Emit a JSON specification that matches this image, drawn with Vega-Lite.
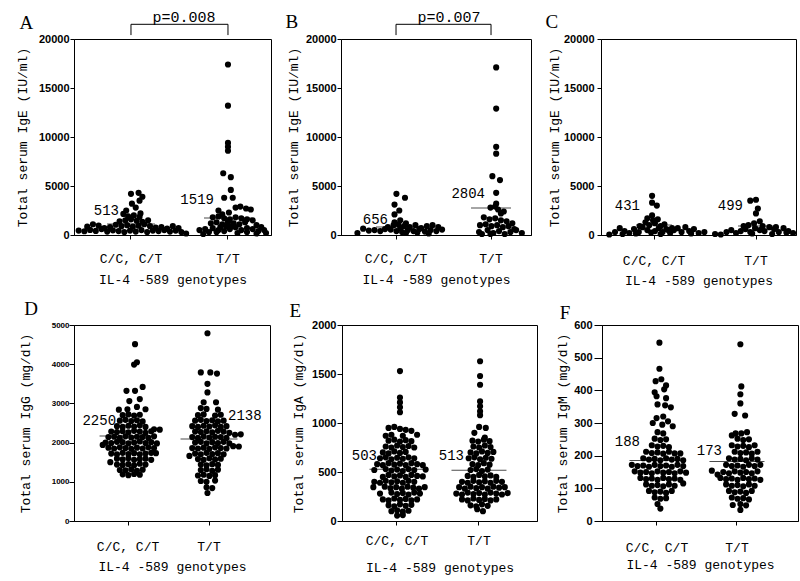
{
"$schema": "https://vega.github.io/schema/vega-lite/v6.json",
"background": "white",
"padding": {"left": 15, "top": 9, "right": 0, "bottom": 0},
"datasets": {
"A": [
{"g":"C/C, C/T","v":450,"j":-55},{"g":"C/C, C/T","v":380,"j":-49},{"g":"C/C, C/T","v":520,"j":-43},{"g":"C/C, C/T","v":420,"j":-37},{"g":"C/C, C/T","v":600,"j":-31},{"g":"C/C, C/T","v":350,"j":-25},{"g":"C/C, C/T","v":480,"j":-19},{"g":"C/C, C/T","v":400,"j":-13},{"g":"C/C, C/T","v":850,"j":-46},{"g":"C/C, C/T","v":950,"j":-34},{"g":"C/C, C/T","v":800,"j":-22},{"g":"C/C, C/T","v":1100,"j":-40},{"g":"C/C, C/T","v":700,"j":-28},{"g":"C/C, C/T","v":300,"j":-7},{"g":"C/C, C/T","v":450,"j":-1},{"g":"C/C, C/T","v":350,"j":5},{"g":"C/C, C/T","v":500,"j":11},{"g":"C/C, C/T","v":300,"j":17},{"g":"C/C, C/T","v":450,"j":23},{"g":"C/C, C/T","v":900,"j":-10},{"g":"C/C, C/T","v":1000,"j":-4},{"g":"C/C, C/T","v":850,"j":2},{"g":"C/C, C/T","v":950,"j":8},{"g":"C/C, C/T","v":1100,"j":14},{"g":"C/C, C/T","v":900,"j":20},{"g":"C/C, C/T","v":1400,"j":-12},{"g":"C/C, C/T","v":1500,"j":-6},{"g":"C/C, C/T","v":1600,"j":0},{"g":"C/C, C/T","v":1450,"j":6},{"g":"C/C, C/T","v":1350,"j":12},{"g":"C/C, C/T","v":1500,"j":18},{"g":"C/C, C/T","v":1900,"j":-3},{"g":"C/C, C/T","v":2000,"j":3},{"g":"C/C, C/T","v":1850,"j":9},{"g":"C/C, C/T","v":2150,"j":-8},{"g":"C/C, C/T","v":2200,"j":10},{"g":"C/C, C/T","v":2500,"j":-5},{"g":"C/C, C/T","v":2800,"j":5},{"g":"C/C, C/T","v":3200,"j":1},{"g":"C/C, C/T","v":3500,"j":9},{"g":"C/C, C/T","v":3900,"j":12},{"g":"C/C, C/T","v":4200,"j":0},{"g":"C/C, C/T","v":4300,"j":8},{"g":"C/C, C/T","v":400,"j":29},{"g":"C/C, C/T","v":500,"j":35},{"g":"C/C, C/T","v":350,"j":41},{"g":"C/C, C/T","v":450,"j":47},{"g":"C/C, C/T","v":300,"j":53},{"g":"C/C, C/T","v":150,"j":58},{"g":"C/C, C/T","v":800,"j":32},{"g":"C/C, C/T","v":900,"j":44},{"g":"C/C, C/T","v":750,"j":26},{"g":"C/C, C/T","v":650,"j":38},{"g":"C/C, C/T","v":700,"j":50},{"g":"C/C, C/T","v":1050,"j":-16},
{"g":"T/T","v":17400,"j":0},{"g":"T/T","v":13200,"j":0},{"g":"T/T","v":9400,"j":0},{"g":"T/T","v":9000,"j":0},{"g":"T/T","v":8600,"j":0},{"g":"T/T","v":6300,"j":-5},{"g":"T/T","v":5900,"j":3},{"g":"T/T","v":4600,"j":3},{"g":"T/T","v":3800,"j":-4},{"g":"T/T","v":3800,"j":5},{"g":"T/T","v":2500,"j":-10},{"g":"T/T","v":2800,"j":8},{"g":"T/T","v":2900,"j":13},{"g":"T/T","v":2700,"j":19},{"g":"T/T","v":2600,"j":24},{"g":"T/T","v":2300,"j":1},{"g":"T/T","v":2100,"j":-6},{"g":"T/T","v":1800,"j":-16},{"g":"T/T","v":1900,"j":-10},{"g":"T/T","v":1700,"j":-4},{"g":"T/T","v":1600,"j":2},{"g":"T/T","v":1800,"j":8},{"g":"T/T","v":1700,"j":14},{"g":"T/T","v":1600,"j":20},{"g":"T/T","v":1500,"j":26},{"g":"T/T","v":1200,"j":-18},{"g":"T/T","v":1300,"j":-12},{"g":"T/T","v":1100,"j":-6},{"g":"T/T","v":1300,"j":0},{"g":"T/T","v":1200,"j":6},{"g":"T/T","v":1100,"j":12},{"g":"T/T","v":1300,"j":18},{"g":"T/T","v":1000,"j":30},{"g":"T/T","v":500,"j":-30},{"g":"T/T","v":600,"j":-24},{"g":"T/T","v":300,"j":-20},{"g":"T/T","v":700,"j":-16},{"g":"T/T","v":500,"j":-10},{"g":"T/T","v":400,"j":-4},{"g":"T/T","v":600,"j":2},{"g":"T/T","v":800,"j":8},{"g":"T/T","v":500,"j":14},{"g":"T/T","v":300,"j":20},{"g":"T/T","v":600,"j":26},{"g":"T/T","v":400,"j":32},{"g":"T/T","v":500,"j":38},{"g":"T/T","v":200,"j":40},{"g":"T/T","v":900,"j":-2},{"g":"T/T","v":800,"j":-8},{"g":"T/T","v":900,"j":4},{"g":"T/T","v":700,"j":20},{"g":"T/T","v":800,"j":35},{"g":"T/T","v":100,"j":-26},{"g":"T/T","v":200,"j":10},{"g":"T/T","v":300,"j":-12},{"g":"T/T","v":150,"j":30}
],
"B": [
{"g":"C/C, C/T","v":200,"j":-41},{"g":"C/C, C/T","v":650,"j":-35},{"g":"C/C, C/T","v":450,"j":-29},{"g":"C/C, C/T","v":500,"j":-23},{"g":"C/C, C/T","v":400,"j":-17},{"g":"C/C, C/T","v":600,"j":-12},{"g":"C/C, C/T","v":550,"j":-6},{"g":"C/C, C/T","v":800,"j":-9},{"g":"C/C, C/T","v":1000,"j":-3},{"g":"C/C, C/T","v":1100,"j":2},{"g":"C/C, C/T","v":1300,"j":-2},{"g":"C/C, C/T","v":1500,"j":4},{"g":"C/C, C/T","v":2100,"j":-2},{"g":"C/C, C/T","v":2500,"j":3},{"g":"C/C, C/T","v":3100,"j":-2},{"g":"C/C, C/T","v":3800,"j":9},{"g":"C/C, C/T","v":4200,"j":0},{"g":"C/C, C/T","v":400,"j":0},{"g":"C/C, C/T","v":300,"j":6},{"g":"C/C, C/T","v":500,"j":12},{"g":"C/C, C/T","v":400,"j":18},{"g":"C/C, C/T","v":600,"j":24},{"g":"C/C, C/T","v":350,"j":30},{"g":"C/C, C/T","v":500,"j":36},{"g":"C/C, C/T","v":400,"j":42},{"g":"C/C, C/T","v":550,"j":48},{"g":"C/C, C/T","v":900,"j":8},{"g":"C/C, C/T","v":800,"j":14},{"g":"C/C, C/T","v":1000,"j":20},{"g":"C/C, C/T","v":700,"j":26},{"g":"C/C, C/T","v":900,"j":32},{"g":"C/C, C/T","v":1000,"j":38},{"g":"C/C, C/T","v":800,"j":44},{"g":"C/C, C/T","v":200,"j":10},{"g":"C/C, C/T","v":250,"j":22},{"g":"C/C, C/T","v":150,"j":34},{"g":"C/C, C/T","v":700,"j":4},{"g":"C/C, C/T","v":1200,"j":10},
{"g":"T/T","v":17100,"j":5},{"g":"T/T","v":12900,"j":5},{"g":"T/T","v":9000,"j":5},{"g":"T/T","v":8300,"j":5},{"g":"T/T","v":6000,"j":1},{"g":"T/T","v":5600,"j":9},{"g":"T/T","v":4300,"j":5},{"g":"T/T","v":3200,"j":5},{"g":"T/T","v":2800,"j":-1},{"g":"T/T","v":2600,"j":7},{"g":"T/T","v":2400,"j":13},{"g":"T/T","v":2900,"j":4},{"g":"T/T","v":2200,"j":10},{"g":"T/T","v":1800,"j":-8},{"g":"T/T","v":1600,"j":-2},{"g":"T/T","v":1700,"j":4},{"g":"T/T","v":1500,"j":10},{"g":"T/T","v":1400,"j":16},{"g":"T/T","v":1200,"j":22},{"g":"T/T","v":1000,"j":-12},{"g":"T/T","v":1100,"j":-6},{"g":"T/T","v":900,"j":0},{"g":"T/T","v":1000,"j":6},{"g":"T/T","v":800,"j":12},{"g":"T/T","v":900,"j":18},{"g":"T/T","v":600,"j":24},{"g":"T/T","v":300,"j":-13},{"g":"T/T","v":100,"j":-10},{"g":"T/T","v":500,"j":-4},{"g":"T/T","v":200,"j":2},{"g":"T/T","v":400,"j":8},{"g":"T/T","v":100,"j":14},{"g":"T/T","v":300,"j":20},{"g":"T/T","v":500,"j":26},{"g":"T/T","v":200,"j":32},{"g":"T/T","v":100,"j":-1}
],
"C": [
{"g":"C/C, C/T","v":50,"j":-46},{"g":"C/C, C/T","v":300,"j":-40},{"g":"C/C, C/T","v":700,"j":-35},{"g":"C/C, C/T","v":400,"j":-30},{"g":"C/C, C/T","v":200,"j":-25},{"g":"C/C, C/T","v":600,"j":-20},{"g":"C/C, C/T","v":300,"j":-15},{"g":"C/C, C/T","v":800,"j":-11},{"g":"C/C, C/T","v":500,"j":-6},{"g":"C/C, C/T","v":250,"j":-2},{"g":"C/C, C/T","v":100,"j":-32},{"g":"C/C, C/T","v":150,"j":-18},{"g":"C/C, C/T","v":400,"j":2},{"g":"C/C, C/T","v":700,"j":6},{"g":"C/C, C/T","v":300,"j":10},{"g":"C/C, C/T","v":600,"j":14},{"g":"C/C, C/T","v":200,"j":18},{"g":"C/C, C/T","v":500,"j":22},{"g":"C/C, C/T","v":700,"j":26},{"g":"C/C, C/T","v":300,"j":30},{"g":"C/C, C/T","v":800,"j":34},{"g":"C/C, C/T","v":400,"j":38},{"g":"C/C, C/T","v":600,"j":43},{"g":"C/C, C/T","v":200,"j":48},{"g":"C/C, C/T","v":300,"j":54},{"g":"C/C, C/T","v":1000,"j":-4},{"g":"C/C, C/T","v":1200,"j":2},{"g":"C/C, C/T","v":900,"j":8},{"g":"C/C, C/T","v":1100,"j":12},{"g":"C/C, C/T","v":1300,"j":-8},{"g":"C/C, C/T","v":1700,"j":-6},{"g":"C/C, C/T","v":1600,"j":5},{"g":"C/C, C/T","v":1500,"j":0},{"g":"C/C, C/T","v":2000,"j":-1},{"g":"C/C, C/T","v":3000,"j":4},{"g":"C/C, C/T","v":3300,"j":-1},{"g":"C/C, C/T","v":4000,"j":-1},{"g":"C/C, C/T","v":500,"j":16},{"g":"C/C, C/T","v":150,"j":40},{"g":"C/C, C/T","v":100,"j":8},{"g":"C/C, C/T","v":900,"j":-14},{"g":"C/C, C/T","v":700,"j":20},
{"g":"T/T","v":3500,"j":-5},{"g":"T/T","v":3600,"j":1},{"g":"T/T","v":2700,"j":3},{"g":"T/T","v":2200,"j":1},{"g":"T/T","v":1400,"j":5},{"g":"T/T","v":1200,"j":-1},{"g":"T/T","v":1000,"j":-7},{"g":"T/T","v":900,"j":8},{"g":"T/T","v":100,"j":-42},{"g":"T/T","v":50,"j":-36},{"g":"T/T","v":300,"j":-30},{"g":"T/T","v":500,"j":-25},{"g":"T/T","v":200,"j":-20},{"g":"T/T","v":400,"j":-15},{"g":"T/T","v":600,"j":-10},{"g":"T/T","v":300,"j":-5},{"g":"T/T","v":700,"j":0},{"g":"T/T","v":500,"j":5},{"g":"T/T","v":400,"j":10},{"g":"T/T","v":800,"j":15},{"g":"T/T","v":600,"j":20},{"g":"T/T","v":300,"j":25},{"g":"T/T","v":700,"j":30},{"g":"T/T","v":400,"j":35},{"g":"T/T","v":200,"j":40},{"g":"T/T","v":150,"j":-3},{"g":"T/T","v":100,"j":18},{"g":"T/T","v":900,"j":-12},{"g":"T/T","v":800,"j":22},{"g":"T/T","v":250,"j":33}
],
"D": [
{"g":"C/C, C/T","v":4510,"j":4},{"g":"C/C, C/T","v":4050,"j":6},{"g":"C/C, C/T","v":3990,"j":3},{"g":"C/C, C/T","v":3320,"j":-5},{"g":"C/C, C/T","v":3320,"j":4},{"g":"C/C, C/T","v":3420,"j":12},{"g":"C/C, C/T","v":3060,"j":-2},{"g":"C/C, C/T","v":3110,"j":9},{"g":"C/C, C/T","v":2840,"j":-13},{"g":"C/C, C/T","v":2850,"j":-4},{"g":"C/C, C/T","v":2910,"j":6},{"g":"C/C, C/T","v":2850,"j":15},
{"g":"C/C, C/T","v":2700,"j":-9},{"g":"C/C, C/T","v":2720,"j":-3},{"g":"C/C, C/T","v":2690,"j":3},{"g":"C/C, C/T","v":2710,"j":9},
{"g":"C/C, C/T","v":2560,"j":-12},{"g":"C/C, C/T","v":2580,"j":-6},{"g":"C/C, C/T","v":2550,"j":0},{"g":"C/C, C/T","v":2570,"j":6},{"g":"C/C, C/T","v":2540,"j":12},
{"g":"C/C, C/T","v":2420,"j":-15},{"g":"C/C, C/T","v":2400,"j":-9},{"g":"C/C, C/T","v":2430,"j":-3},{"g":"C/C, C/T","v":2410,"j":3},{"g":"C/C, C/T","v":2440,"j":9},{"g":"C/C, C/T","v":2400,"j":15},{"g":"C/C, C/T","v":2330,"j":30},{"g":"C/C, C/T","v":2340,"j":24},
{"g":"C/C, C/T","v":2280,"j":-21},{"g":"C/C, C/T","v":2270,"j":-15},{"g":"C/C, C/T","v":2290,"j":-9},{"g":"C/C, C/T","v":2260,"j":-3},{"g":"C/C, C/T","v":2300,"j":3},{"g":"C/C, C/T","v":2280,"j":9},{"g":"C/C, C/T","v":2250,"j":15},{"g":"C/C, C/T","v":2290,"j":21},
{"g":"C/C, C/T","v":2140,"j":-24},{"g":"C/C, C/T","v":2150,"j":-18},{"g":"C/C, C/T","v":2120,"j":-12},{"g":"C/C, C/T","v":2160,"j":-6},{"g":"C/C, C/T","v":2130,"j":0},{"g":"C/C, C/T","v":2150,"j":6},{"g":"C/C, C/T","v":2140,"j":12},{"g":"C/C, C/T","v":2120,"j":18},{"g":"C/C, C/T","v":2160,"j":24},
{"g":"C/C, C/T","v":2000,"j":-27},{"g":"C/C, C/T","v":1990,"j":-21},{"g":"C/C, C/T","v":2020,"j":-15},{"g":"C/C, C/T","v":2010,"j":-9},{"g":"C/C, C/T","v":1980,"j":-3},{"g":"C/C, C/T","v":2000,"j":3},{"g":"C/C, C/T","v":2030,"j":9},{"g":"C/C, C/T","v":1990,"j":15},{"g":"C/C, C/T","v":2010,"j":21},{"g":"C/C, C/T","v":1980,"j":27},
{"g":"C/C, C/T","v":1940,"j":-30},{"g":"C/C, C/T","v":1870,"j":-24},{"g":"C/C, C/T","v":1850,"j":-18},{"g":"C/C, C/T","v":1880,"j":-12},{"g":"C/C, C/T","v":1860,"j":-6},{"g":"C/C, C/T","v":1840,"j":0},{"g":"C/C, C/T","v":1870,"j":6},{"g":"C/C, C/T","v":1850,"j":12},{"g":"C/C, C/T","v":1880,"j":18},{"g":"C/C, C/T","v":1860,"j":24},
{"g":"C/C, C/T","v":1720,"j":-21},{"g":"C/C, C/T","v":1700,"j":-15},{"g":"C/C, C/T","v":1740,"j":-9},{"g":"C/C, C/T","v":1710,"j":-3},{"g":"C/C, C/T","v":1730,"j":3},{"g":"C/C, C/T","v":1700,"j":9},{"g":"C/C, C/T","v":1720,"j":15},{"g":"C/C, C/T","v":1740,"j":21},{"g":"C/C, C/T","v":1730,"j":26},
{"g":"C/C, C/T","v":1500,"j":-22},{"g":"C/C, C/T","v":1590,"j":-15},{"g":"C/C, C/T","v":1570,"j":-9},{"g":"C/C, C/T","v":1600,"j":-3},{"g":"C/C, C/T","v":1560,"j":3},{"g":"C/C, C/T","v":1580,"j":9},{"g":"C/C, C/T","v":1590,"j":15},{"g":"C/C, C/T","v":1560,"j":21},
{"g":"C/C, C/T","v":1440,"j":-15},{"g":"C/C, C/T","v":1430,"j":-9},{"g":"C/C, C/T","v":1450,"j":-3},{"g":"C/C, C/T","v":1420,"j":3},{"g":"C/C, C/T","v":1460,"j":9},{"g":"C/C, C/T","v":1440,"j":15},
{"g":"C/C, C/T","v":1300,"j":-12},{"g":"C/C, C/T","v":1290,"j":-6},{"g":"C/C, C/T","v":1320,"j":0},{"g":"C/C, C/T","v":1280,"j":6},{"g":"C/C, C/T","v":1310,"j":12},
{"g":"C/C, C/T","v":1190,"j":-9},{"g":"C/C, C/T","v":1170,"j":-3},{"g":"C/C, C/T","v":1200,"j":3},{"g":"C/C, C/T","v":1180,"j":9},
{"g":"T/T","v":4790,"j":-5},{"g":"T/T","v":3790,"j":-12},{"g":"T/T","v":3790,"j":-2},{"g":"T/T","v":3760,"j":5},{"g":"T/T","v":3500,"j":-5},{"g":"T/T","v":3280,"j":-5},{"g":"T/T","v":3030,"j":-9},{"g":"T/T","v":3030,"j":4},
{"g":"T/T","v":2880,"j":-12},{"g":"T/T","v":2860,"j":-6},{"g":"T/T","v":2840,"j":6},
{"g":"T/T","v":2700,"j":-15},{"g":"T/T","v":2720,"j":-9},{"g":"T/T","v":2690,"j":3},{"g":"T/T","v":2710,"j":9},
{"g":"T/T","v":2560,"j":-18},{"g":"T/T","v":2580,"j":-12},{"g":"T/T","v":2550,"j":-6},{"g":"T/T","v":2570,"j":0},{"g":"T/T","v":2540,"j":6},{"g":"T/T","v":2560,"j":12},
{"g":"T/T","v":2420,"j":-21},{"g":"T/T","v":2400,"j":-15},{"g":"T/T","v":2430,"j":-9},{"g":"T/T","v":2410,"j":-3},{"g":"T/T","v":2440,"j":3},{"g":"T/T","v":2400,"j":9},{"g":"T/T","v":2420,"j":15},
{"g":"T/T","v":2280,"j":-18},{"g":"T/T","v":2270,"j":-12},{"g":"T/T","v":2290,"j":-6},{"g":"T/T","v":2260,"j":0},{"g":"T/T","v":2300,"j":6},{"g":"T/T","v":2280,"j":12},{"g":"T/T","v":2250,"j":18},
{"g":"T/T","v":2200,"j":24},{"g":"T/T","v":2210,"j":30},
{"g":"T/T","v":2140,"j":-21},{"g":"T/T","v":2120,"j":-15},{"g":"T/T","v":2160,"j":-9},{"g":"T/T","v":2130,"j":-3},{"g":"T/T","v":2150,"j":3},{"g":"T/T","v":2140,"j":9},{"g":"T/T","v":2120,"j":15},
{"g":"T/T","v":2000,"j":-18},{"g":"T/T","v":2020,"j":-12},{"g":"T/T","v":1980,"j":-6},{"g":"T/T","v":2010,"j":0},{"g":"T/T","v":1990,"j":6},{"g":"T/T","v":2020,"j":12},{"g":"T/T","v":1980,"j":18},
{"g":"T/T","v":1910,"j":22},{"g":"T/T","v":1900,"j":28},
{"g":"T/T","v":1860,"j":-21},{"g":"T/T","v":1850,"j":-15},{"g":"T/T","v":1870,"j":-9},{"g":"T/T","v":1840,"j":-3},{"g":"T/T","v":1880,"j":3},{"g":"T/T","v":1860,"j":9},{"g":"T/T","v":1850,"j":15},
{"g":"T/T","v":1660,"j":-24},{"g":"T/T","v":1720,"j":-18},{"g":"T/T","v":1700,"j":-12},{"g":"T/T","v":1740,"j":-6},{"g":"T/T","v":1710,"j":0},{"g":"T/T","v":1730,"j":6},{"g":"T/T","v":1700,"j":12},
{"g":"T/T","v":1580,"j":-15},{"g":"T/T","v":1560,"j":-9},{"g":"T/T","v":1600,"j":-3},{"g":"T/T","v":1570,"j":3},{"g":"T/T","v":1590,"j":9},
{"g":"T/T","v":1440,"j":-12},{"g":"T/T","v":1420,"j":-6},{"g":"T/T","v":1450,"j":0},{"g":"T/T","v":1430,"j":6},
{"g":"T/T","v":1300,"j":-12},{"g":"T/T","v":1320,"j":-6},{"g":"T/T","v":1280,"j":0},{"g":"T/T","v":1310,"j":6},
{"g":"T/T","v":1160,"j":-15},{"g":"T/T","v":1180,"j":-9},{"g":"T/T","v":1150,"j":-3},{"g":"T/T","v":1170,"j":3},
{"g":"T/T","v":1020,"j":-12},{"g":"T/T","v":1000,"j":-6},{"g":"T/T","v":1030,"j":3},
{"g":"T/T","v":860,"j":-6},{"g":"T/T","v":840,"j":0},{"g":"T/T","v":714,"j":-5}
],
"E": [
{"g":"C/C, C/T","v":1530,"j":0},{"g":"C/C, C/T","v":1260,"j":0},{"g":"C/C, C/T","v":1210,"j":0},{"g":"C/C, C/T","v":1160,"j":0},{"g":"C/C, C/T","v":1110,"j":0},
{"g":"C/C, C/T","v":950,"j":-12},{"g":"C/C, C/T","v":960,"j":-6},{"g":"C/C, C/T","v":940,"j":0},{"g":"C/C, C/T","v":930,"j":6},{"g":"C/C, C/T","v":920,"j":12},{"g":"C/C, C/T","v":880,"j":18},{"g":"C/C, C/T","v":870,"j":-15},{"g":"C/C, C/T","v":880,"j":-9},{"g":"C/C, C/T","v":870,"j":3},
{"g":"C/C, C/T","v":820,"j":-12},{"g":"C/C, C/T","v":830,"j":-6},{"g":"C/C, C/T","v":810,"j":0},{"g":"C/C, C/T","v":825,"j":6},{"g":"C/C, C/T","v":815,"j":12},
{"g":"C/C, C/T","v":760,"j":-15},{"g":"C/C, C/T","v":750,"j":-9},{"g":"C/C, C/T","v":770,"j":-3},{"g":"C/C, C/T","v":755,"j":3},{"g":"C/C, C/T","v":765,"j":9},{"g":"C/C, C/T","v":750,"j":15},
{"g":"C/C, C/T","v":700,"j":-18},{"g":"C/C, C/T","v":690,"j":-12},{"g":"C/C, C/T","v":710,"j":-6},{"g":"C/C, C/T","v":695,"j":0},{"g":"C/C, C/T","v":705,"j":6},
{"g":"C/C, C/T","v":640,"j":-21},{"g":"C/C, C/T","v":650,"j":-15},{"g":"C/C, C/T","v":630,"j":-9},{"g":"C/C, C/T","v":645,"j":-3},{"g":"C/C, C/T","v":635,"j":3},{"g":"C/C, C/T","v":650,"j":9},{"g":"C/C, C/T","v":640,"j":15},
{"g":"C/C, C/T","v":580,"j":-24},{"g":"C/C, C/T","v":570,"j":-18},{"g":"C/C, C/T","v":590,"j":-12},{"g":"C/C, C/T","v":575,"j":-6},{"g":"C/C, C/T","v":585,"j":0},{"g":"C/C, C/T","v":570,"j":6},{"g":"C/C, C/T","v":590,"j":12},{"g":"C/C, C/T","v":580,"j":18},{"g":"C/C, C/T","v":570,"j":24},
{"g":"C/C, C/T","v":520,"j":-27},{"g":"C/C, C/T","v":530,"j":-15},{"g":"C/C, C/T","v":515,"j":-9},{"g":"C/C, C/T","v":525,"j":-3},{"g":"C/C, C/T","v":510,"j":3},{"g":"C/C, C/T","v":530,"j":9},{"g":"C/C, C/T","v":520,"j":15},{"g":"C/C, C/T","v":525,"j":27},
{"g":"C/C, C/T","v":450,"j":-18},{"g":"C/C, C/T","v":470,"j":-12},{"g":"C/C, C/T","v":455,"j":-6},{"g":"C/C, C/T","v":465,"j":0},{"g":"C/C, C/T","v":450,"j":6},{"g":"C/C, C/T","v":470,"j":12},{"g":"C/C, C/T","v":460,"j":18},{"g":"C/C, C/T","v":455,"j":24},
{"g":"C/C, C/T","v":400,"j":-27},{"g":"C/C, C/T","v":390,"j":-21},{"g":"C/C, C/T","v":410,"j":-15},{"g":"C/C, C/T","v":395,"j":-9},{"g":"C/C, C/T","v":405,"j":-3},{"g":"C/C, C/T","v":390,"j":3},{"g":"C/C, C/T","v":410,"j":9},{"g":"C/C, C/T","v":400,"j":15},
{"g":"C/C, C/T","v":345,"j":-28},{"g":"C/C, C/T","v":350,"j":-16},{"g":"C/C, C/T","v":335,"j":-10},{"g":"C/C, C/T","v":345,"j":-4},{"g":"C/C, C/T","v":330,"j":2},{"g":"C/C, C/T","v":350,"j":8},{"g":"C/C, C/T","v":340,"j":14},{"g":"C/C, C/T","v":330,"j":20},{"g":"C/C, C/T","v":345,"j":26},
{"g":"C/C, C/T","v":280,"j":-21},{"g":"C/C, C/T","v":290,"j":-9},{"g":"C/C, C/T","v":275,"j":-3},{"g":"C/C, C/T","v":285,"j":3},{"g":"C/C, C/T","v":270,"j":9},{"g":"C/C, C/T","v":290,"j":15},{"g":"C/C, C/T","v":280,"j":21},
{"g":"C/C, C/T","v":220,"j":-18},{"g":"C/C, C/T","v":210,"j":-12},{"g":"C/C, C/T","v":230,"j":-6},{"g":"C/C, C/T","v":215,"j":0},{"g":"C/C, C/T","v":225,"j":6},{"g":"C/C, C/T","v":210,"j":12},{"g":"C/C, C/T","v":220,"j":18},
{"g":"C/C, C/T","v":160,"j":-12},{"g":"C/C, C/T","v":150,"j":-6},{"g":"C/C, C/T","v":170,"j":0},{"g":"C/C, C/T","v":155,"j":6},{"g":"C/C, C/T","v":165,"j":12},
{"g":"C/C, C/T","v":100,"j":-9},{"g":"C/C, C/T","v":110,"j":-3},{"g":"C/C, C/T","v":95,"j":3},{"g":"C/C, C/T","v":105,"j":9},{"g":"C/C, C/T","v":55,"j":-3},{"g":"C/C, C/T","v":60,"j":3},
{"g":"T/T","v":1630,"j":-2},{"g":"T/T","v":1480,"j":-2},{"g":"T/T","v":1390,"j":-2},{"g":"T/T","v":1220,"j":-2},{"g":"T/T","v":1170,"j":-2},{"g":"T/T","v":1120,"j":-2},{"g":"T/T","v":1080,"j":-2},{"g":"T/T","v":960,"j":-3},{"g":"T/T","v":950,"j":4},{"g":"T/T","v":900,"j":-8},{"g":"T/T","v":850,"j":3},
{"g":"T/T","v":820,"j":-10},{"g":"T/T","v":810,"j":-4},{"g":"T/T","v":830,"j":2},{"g":"T/T","v":815,"j":8},
{"g":"T/T","v":760,"j":-9},{"g":"T/T","v":750,"j":-3},{"g":"T/T","v":770,"j":3},{"g":"T/T","v":755,"j":9},
{"g":"T/T","v":700,"j":-12},{"g":"T/T","v":690,"j":-6},{"g":"T/T","v":710,"j":0},{"g":"T/T","v":695,"j":6},{"g":"T/T","v":705,"j":12},
{"g":"T/T","v":640,"j":-14},{"g":"T/T","v":650,"j":-8},{"g":"T/T","v":630,"j":-2},{"g":"T/T","v":645,"j":4},{"g":"T/T","v":635,"j":10},
{"g":"T/T","v":580,"j":-10},{"g":"T/T","v":570,"j":-4},{"g":"T/T","v":590,"j":2},{"g":"T/T","v":575,"j":8},
{"g":"T/T","v":520,"j":-12},{"g":"T/T","v":530,"j":-6},{"g":"T/T","v":510,"j":0},{"g":"T/T","v":525,"j":6},
{"g":"T/T","v":460,"j":-15},{"g":"T/T","v":450,"j":-9},{"g":"T/T","v":470,"j":-3},{"g":"T/T","v":455,"j":3},{"g":"T/T","v":465,"j":9},{"g":"T/T","v":450,"j":15},
{"g":"T/T","v":400,"j":-21},{"g":"T/T","v":390,"j":-15},{"g":"T/T","v":410,"j":-9},{"g":"T/T","v":395,"j":-3},{"g":"T/T","v":405,"j":3},{"g":"T/T","v":390,"j":9},{"g":"T/T","v":410,"j":15},{"g":"T/T","v":400,"j":21},
{"g":"T/T","v":345,"j":-24},{"g":"T/T","v":330,"j":-18},{"g":"T/T","v":350,"j":-12},{"g":"T/T","v":335,"j":-6},{"g":"T/T","v":345,"j":0},{"g":"T/T","v":330,"j":6},{"g":"T/T","v":350,"j":12},{"g":"T/T","v":340,"j":18},{"g":"T/T","v":345,"j":24},
{"g":"T/T","v":280,"j":-27},{"g":"T/T","v":270,"j":-21},{"g":"T/T","v":290,"j":-15},{"g":"T/T","v":275,"j":-9},{"g":"T/T","v":285,"j":-3},{"g":"T/T","v":270,"j":3},{"g":"T/T","v":290,"j":9},{"g":"T/T","v":280,"j":15},{"g":"T/T","v":270,"j":21},{"g":"T/T","v":285,"j":27},
{"g":"T/T","v":220,"j":-21},{"g":"T/T","v":210,"j":-15},{"g":"T/T","v":230,"j":-9},{"g":"T/T","v":215,"j":-3},{"g":"T/T","v":225,"j":3},{"g":"T/T","v":210,"j":9},{"g":"T/T","v":220,"j":15},
{"g":"T/T","v":160,"j":-12},{"g":"T/T","v":150,"j":-6},{"g":"T/T","v":170,"j":0},{"g":"T/T","v":155,"j":6},{"g":"T/T","v":120,"j":-5},{"g":"T/T","v":100,"j":1}
],
"F": [
{"g":"C/C, C/T","v":546,"j":-1},{"g":"C/C, C/T","v":466,"j":-1},{"g":"C/C, C/T","v":428,"j":-5},{"g":"C/C, C/T","v":434,"j":1},{"g":"C/C, C/T","v":415,"j":6},{"g":"C/C, C/T","v":394,"j":-6},{"g":"C/C, C/T","v":403,"j":4},{"g":"C/C, C/T","v":382,"j":-4},{"g":"C/C, C/T","v":376,"j":6},{"g":"C/C, C/T","v":357,"j":-3},{"g":"C/C, C/T","v":354,"j":5},{"g":"C/C, C/T","v":348,"j":11},{"g":"C/C, C/T","v":320,"j":3},{"g":"C/C, C/T","v":315,"j":-4},{"g":"C/C, C/T","v":300,"j":-8},{"g":"C/C, C/T","v":295,"j":2},{"g":"C/C, C/T","v":305,"j":8},{"g":"C/C, C/T","v":290,"j":13},
{"g":"C/C, C/T","v":272,"j":-3},{"g":"C/C, C/T","v":268,"j":3},
{"g":"C/C, C/T","v":252,"j":-6},{"g":"C/C, C/T","v":248,"j":0},{"g":"C/C, C/T","v":250,"j":6},
{"g":"C/C, C/T","v":232,"j":-9},{"g":"C/C, C/T","v":228,"j":-3},{"g":"C/C, C/T","v":230,"j":3},{"g":"C/C, C/T","v":226,"j":9},
{"g":"C/C, C/T","v":212,"j":-15},{"g":"C/C, C/T","v":208,"j":-9},{"g":"C/C, C/T","v":210,"j":-3},{"g":"C/C, C/T","v":206,"j":3},{"g":"C/C, C/T","v":212,"j":9},{"g":"C/C, C/T","v":207,"j":15},{"g":"C/C, C/T","v":207,"j":21},
{"g":"C/C, C/T","v":192,"j":-18},{"g":"C/C, C/T","v":188,"j":-12},{"g":"C/C, C/T","v":190,"j":-6},{"g":"C/C, C/T","v":186,"j":0},{"g":"C/C, C/T","v":192,"j":6},{"g":"C/C, C/T","v":188,"j":12},{"g":"C/C, C/T","v":190,"j":18},{"g":"C/C, C/T","v":186,"j":24},
{"g":"C/C, C/T","v":172,"j":-30},{"g":"C/C, C/T","v":168,"j":-24},{"g":"C/C, C/T","v":170,"j":-18},{"g":"C/C, C/T","v":166,"j":-12},{"g":"C/C, C/T","v":172,"j":-6},{"g":"C/C, C/T","v":168,"j":0},{"g":"C/C, C/T","v":170,"j":6},{"g":"C/C, C/T","v":166,"j":12},{"g":"C/C, C/T","v":172,"j":18},{"g":"C/C, C/T","v":168,"j":24},
{"g":"C/C, C/T","v":152,"j":-27},{"g":"C/C, C/T","v":148,"j":-21},{"g":"C/C, C/T","v":150,"j":-15},{"g":"C/C, C/T","v":146,"j":-9},{"g":"C/C, C/T","v":152,"j":-3},{"g":"C/C, C/T","v":148,"j":3},{"g":"C/C, C/T","v":150,"j":9},{"g":"C/C, C/T","v":146,"j":15},{"g":"C/C, C/T","v":152,"j":21},{"g":"C/C, C/T","v":148,"j":27},
{"g":"C/C, C/T","v":132,"j":-21},{"g":"C/C, C/T","v":128,"j":-15},{"g":"C/C, C/T","v":130,"j":-9},{"g":"C/C, C/T","v":126,"j":-3},{"g":"C/C, C/T","v":132,"j":3},{"g":"C/C, C/T","v":128,"j":9},{"g":"C/C, C/T","v":130,"j":15},{"g":"C/C, C/T","v":126,"j":21},
{"g":"C/C, C/T","v":112,"j":-15},{"g":"C/C, C/T","v":108,"j":-9},{"g":"C/C, C/T","v":110,"j":-3},{"g":"C/C, C/T","v":106,"j":3},{"g":"C/C, C/T","v":112,"j":9},{"g":"C/C, C/T","v":108,"j":15},{"g":"C/C, C/T","v":115,"j":24},
{"g":"C/C, C/T","v":92,"j":-12},{"g":"C/C, C/T","v":88,"j":-6},{"g":"C/C, C/T","v":90,"j":0},{"g":"C/C, C/T","v":86,"j":6},{"g":"C/C, C/T","v":92,"j":12},
{"g":"C/C, C/T","v":72,"j":-6},{"g":"C/C, C/T","v":68,"j":0},{"g":"C/C, C/T","v":70,"j":6},{"g":"C/C, C/T","v":52,"j":-3},{"g":"C/C, C/T","v":38,"j":0},
{"g":"T/T","v":541,"j":0},{"g":"T/T","v":412,"j":1},{"g":"T/T","v":388,"j":0},{"g":"T/T","v":360,"j":0},{"g":"T/T","v":328,"j":-6},{"g":"T/T","v":323,"j":5},{"g":"T/T","v":268,"j":-5},{"g":"T/T","v":268,"j":1},{"g":"T/T","v":272,"j":7},{"g":"T/T","v":262,"j":-9},
{"g":"T/T","v":252,"j":-3},{"g":"T/T","v":248,"j":3},{"g":"T/T","v":250,"j":9},
{"g":"T/T","v":232,"j":-9},{"g":"T/T","v":228,"j":-3},{"g":"T/T","v":230,"j":3},{"g":"T/T","v":226,"j":9},{"g":"T/T","v":232,"j":15},
{"g":"T/T","v":212,"j":-6},{"g":"T/T","v":208,"j":0},{"g":"T/T","v":210,"j":6},{"g":"T/T","v":206,"j":12},{"g":"T/T","v":212,"j":18},
{"g":"T/T","v":192,"j":-12},{"g":"T/T","v":188,"j":-6},{"g":"T/T","v":190,"j":0},{"g":"T/T","v":186,"j":6},{"g":"T/T","v":192,"j":12},{"g":"T/T","v":188,"j":18},
{"g":"T/T","v":172,"j":-15},{"g":"T/T","v":168,"j":-9},{"g":"T/T","v":170,"j":-3},{"g":"T/T","v":166,"j":3},{"g":"T/T","v":172,"j":9},{"g":"T/T","v":168,"j":15},{"g":"T/T","v":172,"j":21},
{"g":"T/T","v":154,"j":-30},{"g":"T/T","v":142,"j":-24},{"g":"T/T","v":150,"j":-18},{"g":"T/T","v":146,"j":-12},{"g":"T/T","v":152,"j":-6},{"g":"T/T","v":148,"j":0},{"g":"T/T","v":150,"j":6},{"g":"T/T","v":146,"j":12},{"g":"T/T","v":152,"j":18},
{"g":"T/T","v":132,"j":-21},{"g":"T/T","v":128,"j":-15},{"g":"T/T","v":130,"j":-9},{"g":"T/T","v":126,"j":-3},{"g":"T/T","v":132,"j":3},{"g":"T/T","v":128,"j":9},{"g":"T/T","v":130,"j":15},{"g":"T/T","v":126,"j":21},
{"g":"T/T","v":112,"j":-15},{"g":"T/T","v":108,"j":-9},{"g":"T/T","v":110,"j":-3},{"g":"T/T","v":106,"j":3},{"g":"T/T","v":112,"j":9},{"g":"T/T","v":108,"j":15},
{"g":"T/T","v":92,"j":-12},{"g":"T/T","v":88,"j":-6},{"g":"T/T","v":90,"j":0},{"g":"T/T","v":86,"j":6},{"g":"T/T","v":92,"j":12},
{"g":"T/T","v":72,"j":-9},{"g":"T/T","v":68,"j":-3},{"g":"T/T","v":70,"j":3},{"g":"T/T","v":66,"j":9},
{"g":"T/T","v":49,"j":-8},{"g":"T/T","v":52,"j":0},{"g":"T/T","v":48,"j":6},{"g":"T/T","v":34,"j":0}
],
"Am": [{"g":"C/C, C/T","v":1120,"t":"513"},{"g":"T/T","v":1730,"t":"1519"}],
"Bm": [{"g":"C/C, C/T","v":820,"t":"656"},{"g":"T/T","v":2760,"t":"2804"}],
"Cm": [{"g":"C/C, C/T","v":1020,"t":"431"},{"g":"T/T","v":920,"t":"499"}],
"Dm": [{"g":"C/C, C/T","v":2170,"t":"2250"},{"g":"T/T","v":2090,"t":"2138"}],
"Em": [{"g":"C/C, C/T","v":528,"t":"503"},{"g":"T/T","v":518,"t":"513"}],
"Fm": [{"g":"C/C, C/T","v":185,"t":"188"},{"g":"T/T","v":182,"t":"173"}],
"bracket": [{"g":"C/C, C/T","v":20400,"o":1},{"g":"C/C, C/T","v":21500,"o":2},{"g":"T/T","v":21500,"o":3},{"g":"T/T","v":20400,"o":4}]
},
"spacing": 11,
"vconcat": [
{"hconcat": [
{"width": 197, "height": 196,
 "title": {"text": "A", "offset": -23, "dx": 3},
 "encoding": {
  "x": {"field": "g", "type": "nominal", "title": "IL-4 -589 genotypes", "scale": {"type": "band", "paddingInner": 0.6, "paddingOuter": 0.3155, "align": 0.614}, "axis": {"labelPadding": 13.5, "titlePadding": 8}},
  "y": {"field": "v", "type": "quantitative", "title": "Total serum IgE (IU/ml)", "scale": {"domain": [0, 20000], "nice": false}, "axis": {"values": [0, 5000, 10000, 15000, 20000], "format": "d", "tickSize": 4, "labelPadding": 1, "titlePadding": 9}}
 },
 "layer": [
  {"data": {"name": "A"}, "mark": {"type": "circle", "size": 38, "color": "black", "opacity": 1}, "encoding": {"xOffset": {"field": "j", "type": "quantitative", "scale": {"domain": [-19.4, 19.4], "nice": false, "zero": false}}}},
  {"data": {"name": "Am"}, "mark": {"type": "tick", "size": 48, "thickness": 1, "color": "black"}},
  {"data": {"name": "Am"}, "transform": [{"filter": "datum.g === 'C/C, C/T'"}], "mark": {"type": "text", "align": "right", "baseline": "middle", "dx": -12, "dy": -13}, "encoding": {"text": {"field": "t"}}},
  {"data": {"name": "Am"}, "transform": [{"filter": "datum.g === 'T/T'"}], "mark": {"type": "text", "align": "right", "baseline": "middle", "dx": -14, "dy": -18}, "encoding": {"text": {"field": "t"}}},
  {"data": {"name": "bracket"}, "mark": {"type": "line", "color": "black", "strokeWidth": 1}, "encoding": {"order": {"field": "o", "type": "quantitative"}}},
  {"data": {"values": [{"g": "C/C, C/T", "v": 21500, "t": "p=0.008"}]}, "mark": {"type": "text", "align": "center", "baseline": "middle", "dx": 53, "dy": -7, "fontSize": 15}, "encoding": {"text": {"field": "t"}}}
 ]
},
{"width": 190, "height": 196,
 "title": {"text": "B", "offset": -22, "dx": -2},
 "encoding": {
  "x": {"field": "g", "type": "nominal", "title": "IL-4 -589 genotypes", "scale": {"type": "band", "paddingInner": 0.6, "paddingOuter": 0.3, "align": 0.632}, "axis": {"labelPadding": 13.5, "titlePadding": 8}},
  "y": {"field": "v", "type": "quantitative", "title": "Total serum IgE (IU/ml)", "scale": {"domain": [0, 20000], "nice": false}, "axis": {"values": [0, 5000, 10000, 15000, 20000], "format": "d", "tickSize": 4, "labelPadding": 1, "titlePadding": 5}}
 },
 "layer": [
  {"data": {"name": "B"}, "mark": {"type": "circle", "size": 38, "color": "black", "opacity": 1}, "encoding": {"xOffset": {"field": "j", "type": "quantitative", "scale": {"domain": [-19, 19], "nice": false, "zero": false}}}},
  {"data": {"name": "Bm"}, "mark": {"type": "tick", "size": 40, "thickness": 1, "color": "black"}},
  {"data": {"name": "Bm"}, "transform": [{"filter": "datum.g === 'C/C, C/T'"}], "mark": {"type": "text", "align": "right", "baseline": "middle", "dx": -8, "dy": -7}, "encoding": {"text": {"field": "t"}}},
  {"data": {"name": "Bm"}, "transform": [{"filter": "datum.g === 'T/T'"}], "mark": {"type": "text", "align": "right", "baseline": "middle", "dx": -6, "dy": -14}, "encoding": {"text": {"field": "t"}}},
  {"data": {"name": "bracket"}, "mark": {"type": "line", "color": "black", "strokeWidth": 1}, "encoding": {"order": {"field": "o", "type": "quantitative"}}},
  {"data": {"values": [{"g": "C/C, C/T", "v": 21500, "t": "p=0.007"}]}, "mark": {"type": "text", "align": "center", "baseline": "middle", "dx": 53, "dy": -7, "fontSize": 15}, "encoding": {"text": {"field": "t"}}}
 ]
},
{"width": 195, "height": 196,
 "title": {"text": "C", "offset": 1, "dx": -3},
 "encoding": {
  "x": {"field": "g", "type": "nominal", "title": "IL-4 -589 genotypes", "scale": {"type": "band", "paddingInner": 0.6, "paddingOuter": 0.256, "align": 0.625}, "axis": {"labelPadding": 15, "titlePadding": 7}},
  "y": {"field": "v", "type": "quantitative", "title": "Total serum IgE (IU/ml)", "scale": {"domain": [0, 20000], "nice": false}, "axis": {"values": [0, 5000, 10000, 15000, 20000], "format": "d", "tickSize": 4, "labelPadding": 3, "titlePadding": 2}}
 },
 "layer": [
  {"data": {"name": "C"}, "mark": {"type": "circle", "size": 38, "color": "black", "opacity": 1}, "encoding": {"xOffset": {"field": "j", "type": "quantitative", "scale": {"domain": [-20.4, 20.4], "nice": false, "zero": false}}}},
  {"data": {"name": "Cm"}, "mark": {"type": "tick", "size": 36, "thickness": 1, "color": "black"}},
  {"data": {"name": "Cm"}, "transform": [{"filter": "datum.g === 'C/C, C/T'"}], "mark": {"type": "text", "align": "right", "baseline": "middle", "dx": -14, "dy": -19}, "encoding": {"text": {"field": "t"}}},
  {"data": {"name": "Cm"}, "transform": [{"filter": "datum.g === 'T/T'"}], "mark": {"type": "text", "align": "right", "baseline": "middle", "dx": -13, "dy": -20}, "encoding": {"text": {"field": "t"}}}
 ]
}
], "spacing": 12},
{"hconcat": [
{"width": 196, "height": 196,
 "title": {"text": "D", "offset": 2, "dx": 5},
 "encoding": {
  "x": {"field": "g", "type": "nominal", "title": "IL-4 -589 genotypes", "scale": {"type": "band", "paddingInner": 0.6, "paddingOuter": 0.51, "align": 0.458}, "axis": {"labelPadding": 15.5, "titlePadding": 7}},
  "y": {"field": "v", "type": "quantitative", "title": "Total serum IgG (mg/dl)", "scale": {"domain": [0, 5000], "nice": false}, "axis": {"values": [0, 1000, 2000, 3000, 4000, 5000], "format": "d", "tickSize": 5, "labelPadding": 0, "titlePadding": 19, "labelFontSize": 8}}
 },
 "layer": [
  {"data": {"name": "D"}, "mark": {"type": "circle", "size": 38, "color": "black", "opacity": 1}, "encoding": {"xOffset": {"field": "j", "type": "quantitative", "scale": {"domain": [-16.2, 16.2], "nice": false, "zero": false}}}},
  {"data": {"name": "Dm"}, "mark": {"type": "tick", "size": 57, "thickness": 1, "color": "black"}},
  {"data": {"name": "Dm"}, "transform": [{"filter": "datum.g === 'C/C, C/T'"}], "mark": {"type": "text", "align": "right", "baseline": "middle", "dx": -12, "dy": -15}, "encoding": {"text": {"field": "t"}}},
  {"data": {"name": "Dm"}, "transform": [{"filter": "datum.g === 'T/T'"}], "mark": {"type": "text", "align": "left", "baseline": "middle", "dx": 19, "dy": -23}, "encoding": {"text": {"field": "t"}}}
 ]
},
{"width": 195, "height": 196,
 "title": {"text": "E", "offset": -2, "dx": -3},
 "encoding": {
  "x": {"field": "g", "type": "nominal", "title": "IL-4 -589 genotypes", "scale": {"type": "band", "paddingInner": 0.6, "paddingOuter": 0.489, "align": 0.481}, "axis": {"labelPadding": 9.5, "titlePadding": 14}},
  "y": {"field": "v", "type": "quantitative", "title": "Total serum IgA (mg/dl)", "scale": {"domain": [0, 2000], "nice": false}, "axis": {"values": [0, 500, 1000, 1500, 2000], "format": "d", "tickSize": 5, "labelPadding": 1, "titlePadding": 6}}
 },
 "layer": [
  {"data": {"name": "E"}, "mark": {"type": "circle", "size": 38, "color": "black", "opacity": 1}, "encoding": {"xOffset": {"field": "j", "type": "quantitative", "scale": {"domain": [-16.4, 16.4], "nice": false, "zero": false}}}},
  {"data": {"name": "Em"}, "mark": {"type": "tick", "size": 55, "thickness": 1, "color": "black"}},
  {"data": {"name": "Em"}, "transform": [{"filter": "datum.g === 'C/C, C/T'"}], "mark": {"type": "text", "align": "right", "baseline": "middle", "dx": -20, "dy": -13}, "encoding": {"text": {"field": "t"}}},
  {"data": {"name": "Em"}, "transform": [{"filter": "datum.g === 'T/T'"}], "mark": {"type": "text", "align": "right", "baseline": "middle", "dx": -15, "dy": -14}, "encoding": {"text": {"field": "t"}}}
 ]
},
{"width": 196, "height": 196,
 "title": {"text": "F", "offset": -4, "dx": 3},
 "encoding": {
  "x": {"field": "g", "type": "nominal", "title": "IL-4 -589 genotypes", "scale": {"type": "band", "paddingInner": 0.6, "paddingOuter": 0.525, "align": 0.464}, "axis": {"labelPadding": 16.5, "titlePadding": 4}},
  "y": {"field": "v", "type": "quantitative", "title": "Total serum IgM (mg/dl)", "scale": {"domain": [0, 600], "nice": false}, "axis": {"values": [0, 100, 200, 300, 400, 500, 600], "format": "d", "tickSize": 8, "labelPadding": 2, "titlePadding": 4}}
 },
 "layer": [
  {"data": {"name": "F"}, "mark": {"type": "circle", "size": 38, "color": "black", "opacity": 1}, "encoding": {"xOffset": {"field": "j", "type": "quantitative", "scale": {"domain": [-16, 16], "nice": false, "zero": false}}}},
  {"data": {"name": "Fm"}, "mark": {"type": "tick", "size": 55, "thickness": 1, "color": "black"}},
  {"data": {"name": "Fm"}, "transform": [{"filter": "datum.g === 'C/C, C/T'"}], "mark": {"type": "text", "align": "right", "baseline": "middle", "dx": -17, "dy": -19}, "encoding": {"text": {"field": "t"}}},
  {"data": {"name": "Fm"}, "transform": [{"filter": "datum.g === 'T/T'"}], "mark": {"type": "text", "align": "right", "baseline": "middle", "dx": -15, "dy": -11}, "encoding": {"text": {"field": "t"}}}
 ]
}
], "spacing": 18}
],
"config": {
 "view": {"stroke": "black", "strokeWidth": 1},
 "axis": {"domainColor": "black", "tickColor": "black", "labelColor": "black", "titleColor": "black", "grid": false, "labelFont": "Liberation Sans", "labelFontWeight": "bold", "labelFontSize": 11, "titleFont": "Liberation Mono", "titleFontSize": 13, "titleFontWeight": "normal", "domainWidth": 1, "tickWidth": 1},
 "axisX": {"labelFont": "Liberation Mono", "labelFontWeight": "normal", "labelFontSize": 13, "labelAngle": 0, "tickSize": 4},
 "text": {"font": "Liberation Mono", "fontSize": 14, "color": "black"},
 "title": {"font": "Liberation Serif", "fontSize": 19, "fontWeight": "normal", "anchor": "start", "frame": "bounds", "color": "black"}
}
}
